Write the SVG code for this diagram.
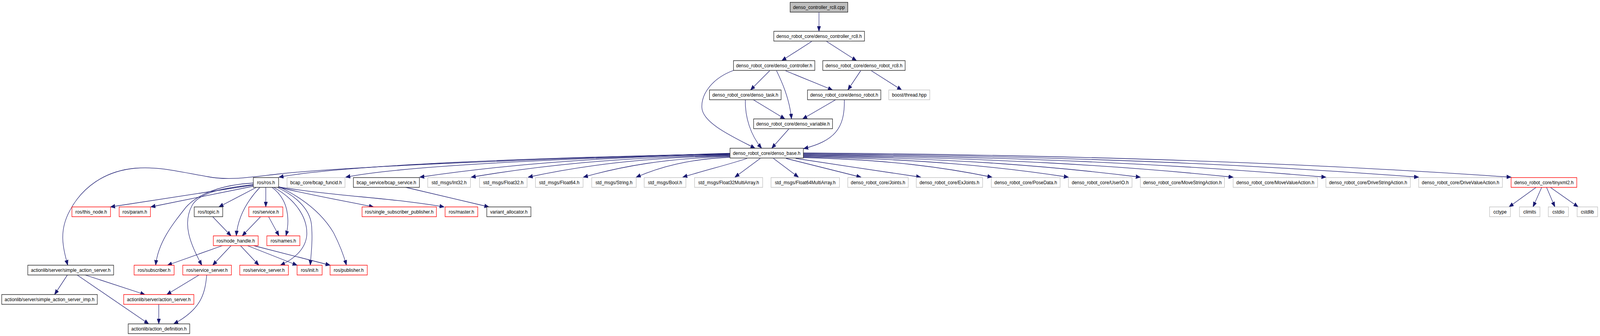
<svg xmlns="http://www.w3.org/2000/svg" width="4603" height="859" viewBox="0 0 4603 859">
<style>
rect{fill:#fff;stroke:#202020;stroke-width:1.4}
.g rect{stroke:#bfbfbf}
.r rect{stroke:#ff0000}
.root rect{fill:#bfbfbf}
text{font-family:"Liberation Sans",Arial,sans-serif;font-size:13.3px;text-anchor:middle;fill:#000}
#edges path{fill:none;stroke:#191970;stroke-width:1.3;marker-end:url(#ah)}
</style>
<defs>
<marker id="ah" markerUnits="userSpaceOnUse" markerWidth="14" markerHeight="11" refX="13" refY="5.5" orient="auto">
<path d="M0,0.5 L13,5.5 L0,10.5 z" fill="#191970" stroke="#191970" stroke-width="1"/>
</marker>
</defs>
<rect x="0" y="0" width="4603" height="859" style="fill:#fff;stroke:none"/>
<g id="diagram" transform="scale(0.8895,1)">
<g id="edges">
<path d="M2357,32 L2357,80"/>
<path d="M2336,106 L2250,155"/>
<path d="M2379,106 L2465,155"/>
<path d="M2215,181 L2160,230"/>
<path d="M2235,181 C2248,205 2272,250 2278,304"/>
<path d="M2261,181 L2396,230"/>
<path d="M2111,180 C2050,200 2018,240 2020,275 C2022,315 2110,350 2173,379"/>
<path d="M2477,181 L2440,230"/>
<path d="M2508,181 L2595,230"/>
<path d="M2168,255 L2259,304"/>
<path d="M2145,255 C2144,300 2160,345 2192,379"/>
<path d="M2405,255 L2310,304"/>
<path d="M2430,255 C2432,330 2400,360 2313,380"/>
<path d="M2270,330 L2221,379"/>
<path d="M2101,392 C1600,405 1000,425 800,445 C720,453 660,462 600,452 C520,440 460,425 390,430 C300,437 235,480 200,540 C170,590 180,630 195,678"/>
<path d="M2101,393 C1600,402 1000,420 803,453"/>
<path d="M2101,394 C1600,405 1150,425 995,453"/>
<path d="M2101,395 C1699,401 1431,424 1208,453"/>
<path d="M2101,397 C1766,402 1542,425 1356,453"/>
<path d="M2101,398 C1840,403 1665,425 1520,453"/>
<path d="M2101,400 C1911,405 1785,426 1679,453"/>
<path d="M2101,402 C1980,407 1899,427 1831,453"/>
<path d="M2150,405 C2100,420 2030,435 1965,453"/>
<path d="M2188,405 L2115,453"/>
<path d="M2226,405 L2298,453"/>
<path d="M2262,405 L2478,453"/>
<path d="M2290,405 C2400,420 2550,440 2650,453"/>
<path d="M2312,403 C2556,408 2719,428 2855,453"/>
<path d="M2312,401 C2655,406 2884,427 3075,453"/>
<path d="M2312,399 C2749,404 3040,426 3282,453"/>
<path d="M2312,397 C2869,403 3240,425 3549,453"/>
<path d="M2312,395 C2989,401 3440,424 3816,453"/>
<path d="M2312,393 C3109,399 3640,423 4083,453"/>
<path d="M2312,391 C3229,397 3840,422 4349,453"/>
<path d="M729,473 L318,529"/>
<path d="M729,476 L434,529"/>
<path d="M738,479 L630,529"/>
<path d="M765,479 L765,529"/>
<path d="M729,468 C640,472 570,495 535,530 C495,575 455,620 448,678"/>
<path d="M729,472 C650,480 575,490 553,525 C525,570 545,620 581,678"/>
<path d="M748,479 C715,510 685,550 680,603"/>
<path d="M783,479 C830,510 835,560 823,603"/>
<path d="M788,479 C850,510 885,555 883,600 C880,640 840,665 807,678"/>
<path d="M798,479 C860,505 895,540 897,580 C900,620 895,650 893,678"/>
<path d="M802,477 C880,510 930,550 960,595 C980,630 990,655 997,678"/>
<path d="M803,479 C900,500 1000,515 1075,529"/>
<path d="M803,478 C950,500 1150,508 1278,529"/>
<path d="M1168,479 L1407,529"/>
<path d="M640,628 L482,678"/>
<path d="M665,628 L612,678"/>
<path d="M692,628 L745,678"/>
<path d="M712,628 L855,678"/>
<path d="M730,628 L950,678"/>
<path d="M612,554 L665,603"/>
<path d="M750,554 L697,603"/>
<path d="M773,554 L803,603"/>
<path d="M194,703 L157,753"/>
<path d="M245,703 L417,753"/>
<path d="M222,703 L428,828"/>
<path d="M573,703 L480,753"/>
<path d="M595,703 C590,750 580,790 500,828"/>
<path d="M457,778 L457,828"/>
<path d="M4421,479 L4343,529"/>
<path d="M4437,479 L4412,529"/>
<path d="M4451,479 L4475,529"/>
<path d="M4462,479 L4542,529"/>
</g>
<g id="n1" class="root"><rect x="2274" y="6" width="166" height="25"/><text x="2357" y="23">denso_controller_rc8.cpp</text></g>
<g id="n2"><rect x="2227" y="80" width="261" height="25"/><text x="2357.5" y="97">denso_robot_core/denso_controller_rc8.h</text></g>
<g id="n3"><rect x="2111" y="155" width="234" height="25"/><text x="2228" y="172">denso_robot_core/denso_controller.h</text></g>
<g id="n4"><rect x="2368" y="155" width="237" height="25"/><text x="2486.5" y="172">denso_robot_core/denso_robot_rc8.h</text></g>
<g id="n5"><rect x="2042" y="230" width="206" height="25"/><text x="2145" y="247">denso_robot_core/denso_task.h</text></g>
<g id="n6"><rect x="2324" y="230" width="211" height="25"/><text x="2429.5" y="247">denso_robot_core/denso_robot.h</text></g>
<g id="n7" class="g"><rect x="2558" y="230" width="118" height="25"/><text x="2617" y="247">boost/thread.hpp</text></g>
<g id="n8"><rect x="2169" y="304" width="227" height="25"/><text x="2282.5" y="321">denso_robot_core/denso_variable.h</text></g>
<g id="n9"><rect x="2101" y="379" width="211" height="25"/><text x="2206.5" y="396">denso_robot_core/denso_base.h</text></g>
<g id="n10"><rect x="729" y="454" width="73" height="25"/><text x="765.5" y="471">ros/ros.h</text></g>
<g id="n11" class="g"><rect x="826" y="454" width="167" height="25"/><text x="909.5" y="471">bcap_core/bcap_funcid.h</text></g>
<g id="n12"><rect x="1017" y="454" width="190" height="25"/><text x="1112" y="471">bcap_service/bcap_service.h</text></g>
<g id="n13" class="g"><rect x="1231" y="454" width="123" height="25"/><text x="1292.5" y="471">std_msgs/Int32.h</text></g>
<g id="n14" class="g"><rect x="1380" y="454" width="137" height="25"/><text x="1448.5" y="471">std_msgs/Float32.h</text></g>
<g id="n15" class="g"><rect x="1541" y="454" width="137" height="25"/><text x="1609.5" y="471">std_msgs/Float64.h</text></g>
<g id="n16" class="g"><rect x="1703" y="454" width="128" height="25"/><text x="1767" y="471">std_msgs/String.h</text></g>
<g id="n17" class="g"><rect x="1854" y="454" width="120" height="25"/><text x="1914" y="471">std_msgs/Bool.h</text></g>
<g id="n18" class="g"><rect x="1999" y="454" width="196" height="25"/><text x="2097" y="471">std_msgs/Float32MultiArray.h</text></g>
<g id="n19" class="g"><rect x="2219" y="454" width="197" height="25"/><text x="2317.5" y="471">std_msgs/Float64MultiArray.h</text></g>
<g id="n20" class="g"><rect x="2440" y="454" width="174" height="25"/><text x="2527" y="471">denso_robot_core/Joints.h</text></g>
<g id="n21" class="g"><rect x="2637" y="454" width="191" height="25"/><text x="2732.5" y="471">denso_robot_core/ExJoints.h</text></g>
<g id="n22" class="g"><rect x="2853" y="454" width="198" height="25"/><text x="2952" y="471">denso_robot_core/PoseData.h</text></g>
<g id="n23" class="g"><rect x="3075" y="454" width="183" height="25"/><text x="3166.5" y="471">denso_robot_core/UserIO.h</text></g>
<g id="n24" class="g"><rect x="3282" y="454" width="242" height="25"/><text x="3403" y="471">denso_robot_core/MoveStringAction.h</text></g>
<g id="n25" class="g"><rect x="3549" y="454" width="243" height="25"/><text x="3670.5" y="471">denso_robot_core/MoveValueAction.h</text></g>
<g id="n26" class="g"><rect x="3816" y="454" width="243" height="25"/><text x="3937.5" y="471">denso_robot_core/DriveStringAction.h</text></g>
<g id="n27" class="g"><rect x="4083" y="454" width="241" height="25"/><text x="4203.5" y="471">denso_robot_core/DriveValueAction.h</text></g>
<g id="n28" class="r"><rect x="4349" y="454" width="189" height="25"/><text x="4443.5" y="471">denso_robot_core/tinyxml2.h</text></g>
<g id="n29" class="r"><rect x="207" y="529" width="111" height="25"/><text x="262.5" y="546">ros/this_node.h</text></g>
<g id="n30" class="r"><rect x="343" y="529" width="90" height="25"/><text x="388" y="546">ros/param.h</text></g>
<g id="n31"><rect x="559" y="529" width="82" height="25"/><text x="600" y="546">ros/topic.h</text></g>
<g id="n32" class="r"><rect x="716" y="529" width="98" height="25"/><text x="765" y="546">ros/service.h</text></g>
<g id="n33" class="r"><rect x="1042" y="529" width="214" height="25"/><text x="1149" y="546">ros/single_subscriber_publisher.h</text></g>
<g id="n34" class="r"><rect x="1281" y="529" width="94" height="25"/><text x="1328" y="546">ros/master.h</text></g>
<g id="n35"><rect x="1401" y="529" width="127" height="25"/><text x="1464.5" y="546">variant_allocator.h</text></g>
<g id="n36" class="g"><rect x="4287" y="529" width="60" height="25"/><text x="4317" y="546">cctype</text></g>
<g id="n37" class="g"><rect x="4373" y="529" width="59" height="25"/><text x="4402.5" y="546">climits</text></g>
<g id="n38" class="g"><rect x="4456" y="529" width="58" height="25"/><text x="4485" y="546">cstdio</text></g>
<g id="n39" class="g"><rect x="4539" y="529" width="59" height="25"/><text x="4568.5" y="546">cstdlib</text></g>
<g id="n40" class="r"><rect x="614" y="603" width="129" height="25"/><text x="678.5" y="620">ros/node_handle.h</text></g>
<g id="n41" class="r"><rect x="768" y="603" width="95" height="25"/><text x="815.5" y="620">ros/names.h</text></g>
<g id="n42"><rect x="80" y="678" width="247" height="25"/><text x="203.5" y="695">actionlib/server/simple_action_server.h</text></g>
<g id="n43" class="r"><rect x="386" y="678" width="115" height="25"/><text x="443.5" y="695">ros/subscriber.h</text></g>
<g id="n44" class="r"><rect x="526" y="678" width="140" height="25"/><text x="596" y="695">ros/service_server.h</text></g>
<g id="n45" class="r"><rect x="690" y="678" width="140" height="25"/><text x="760" y="695">ros/service_server.h</text></g>
<g id="n46" class="r"><rect x="855" y="678" width="72" height="25"/><text x="891" y="695">ros/init.h</text></g>
<g id="n47" class="r"><rect x="950" y="678" width="107" height="25"/><text x="1003.5" y="695">ros/publisher.h</text></g>
<g id="n48"><rect x="5" y="753" width="275" height="25"/><text x="142.5" y="770">actionlib/server/simple_action_server_imp.h</text></g>
<g id="n49" class="r"><rect x="356" y="753" width="202" height="25"/><text x="457" y="770">actionlib/server/action_server.h</text></g>
<g id="n50"><rect x="369" y="828" width="177" height="25"/><text x="457.5" y="845">actionlib/action_definition.h</text></g>
</g>
</svg>
